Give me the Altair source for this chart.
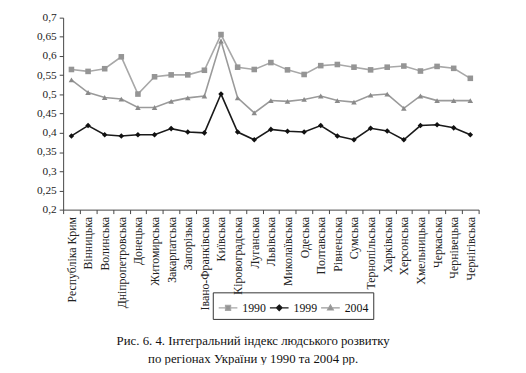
import altair as alt
import pandas as pd

regions = ["Республіка Крим", "Вінницька", "Волинська", "Дніпропетровська", "Донецька",
           "Житомирська", "Закарпатська", "Запорізька", "Івано-Франківська", "Київська",
           "Кіровоградська", "Луганська", "Львівська", "Миколаївська", "Одеська",
           "Полтавська", "Рівненська", "Сумська", "Тернопільська", "Харківська",
           "Херсонська", "Хмельницька", "Черкаська", "Чернівецька", "Чернігівська"]
v1990 = [0.565, 0.560, 0.567, 0.598, 0.501, 0.546, 0.551, 0.551, 0.563, 0.656,
         0.571, 0.565, 0.583, 0.564, 0.552, 0.575, 0.578, 0.571, 0.564, 0.571,
         0.574, 0.561, 0.573, 0.568, 0.542]
v1999 = [0.392, 0.419, 0.395, 0.392, 0.395, 0.395, 0.411, 0.402, 0.400, 0.501,
         0.402, 0.382, 0.409, 0.404, 0.402, 0.419, 0.392, 0.382, 0.412, 0.405,
         0.382, 0.419, 0.421, 0.413, 0.395]
v2004 = [0.538, 0.505, 0.492, 0.488, 0.466, 0.466, 0.482, 0.491, 0.496, 0.639,
         0.491, 0.452, 0.484, 0.482, 0.487, 0.496, 0.484, 0.480, 0.498, 0.501,
         0.464, 0.496, 0.484, 0.484, 0.484]
years = ["1990", "1999", "2004"]
y_ticks = [0.2, 0.25, 0.3, 0.35, 0.4, 0.45, 0.5, 0.55, 0.6, 0.65, 0.7]
caption = ["Рис. 6. 4. Інтегральний індекс людського розвитку",
           "по регіонах України у 1990 та 2004 рр."]

rows = []
for yr, vals in zip(years, [v1990, v1999, v2004]):
    for r, v in zip(regions, vals):
        rows.append({"region": r, "year": yr, "value": v})
df = pd.DataFrame(rows)

line_colors = ["#a8a8a8", "#1a1a1a", "#9a9a9a"]
pt_colors = ["#959595", "#111111", "#8a8a8a"]
shapes = ["square", "diamond", "triangle-up"]
# legend symbols: a short line with the marker on it
legend_shapes = ["M-1,0H-0.27M0.27,0H1M-0.27,-0.27H0.27V0.27H-0.27Z",
                 "M-1,0H1M0,-0.3L0.3,0L0,0.3L-0.3,0Z",
                 "M-1,0H1M0,-0.3L0.3,0.22L-0.3,0.22Z"]
FONT = "Liberation Serif"

x = alt.X("region:N", sort=regions, bandPosition=0.5,
          scale=alt.Scale(type="band", paddingInner=0, paddingOuter=0),
          axis=alt.Axis(title=None, labelAngle=-90, labelAlign="right", labelBaseline="middle",
                        tickBand="extent", tickSize=4, labelPadding=3,
                        labelFont=FONT, labelFontSize=12, labelColor="#222",
                        domainColor="#444", tickColor="#444", grid=False))
y = alt.Y("value:Q", scale=alt.Scale(domain=[0.2, 0.7], nice=False, zero=False),
          axis=alt.Axis(title=None, values=y_ticks, tickSize=4, labelPadding=3,
                        labelExpr="replace(format(datum.value, '.2~f'), '.', ',')",
                        labelFont=FONT, labelFontSize=11.5, labelColor="#222",
                        domainColor="#444", tickColor="#444", grid=False))

lines = alt.Chart(df).mark_line(strokeWidth=1.6).encode(
    x=x, y=y,
    color=alt.Color("year:N", scale=alt.Scale(domain=years, range=line_colors), legend=None),
    detail="year:N",
)
points = alt.Chart(df).mark_point(filled=True, opacity=1, size=32).encode(
    x=x, y=y,
    fill=alt.Fill("year:N", scale=alt.Scale(domain=years, range=pt_colors), legend=None),
    shape=alt.Shape("year:N", scale=alt.Scale(domain=years, range=shapes), legend=None),
)
leg = dict(title=None, orient="none", legendX=152, legendY=279, direction="horizontal",
           strokeColor="#333", padding=5, labelFont=FONT, labelFontSize=12,
           labelColor="#111", symbolSize=360, columnPadding=1, labelOffset=4,
           symbolOpacity=1, symbolStrokeWidth=1.3)
legend_layer = alt.Chart(df).mark_point(filled=True, opacity=0, strokeWidth=1.3).encode(
    x=x, y=y,
    fill=alt.Fill("year:N", scale=alt.Scale(domain=years, range=pt_colors),
                  legend=alt.Legend(**leg)),
    stroke=alt.Stroke("year:N", scale=alt.Scale(domain=years, range=line_colors),
                      legend=alt.Legend(**leg)),
    shape=alt.Shape("year:N", scale=alt.Scale(domain=years, range=legend_shapes),
                    legend=alt.Legend(**leg)),
)

chart = alt.layer(lines, points, legend_layer).resolve_scale(
    color="independent", fill="independent", shape="independent", stroke="independent"
).properties(
    width=422, height=195,
    autosize=alt.AutoSizeParams(type="none"),
    padding={"left": 56, "top": 7, "right": 40, "bottom": 155},
    title=alt.TitleParams(text=caption, orient="bottom", anchor="middle", font=FONT,
                          fontSize=13, fontWeight="normal", color="#111", offset=16,
                          dx=-18, lineHeight=18),
).configure_view(stroke=None)

chart.save("out.html", embed_options={"renderer": "svg", "actions": False})
